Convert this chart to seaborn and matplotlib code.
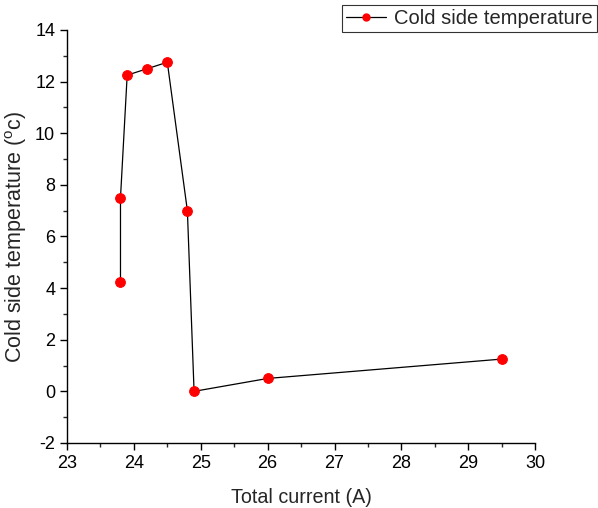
import matplotlib
matplotlib.use("Agg")
import matplotlib.pyplot as plt
import seaborn as sns
import pandas as pd
from matplotlib.ticker import MultipleLocator
from matplotlib.lines import Line2D

total_current = [23.8, 23.8, 23.9, 24.2, 24.5, 24.8, 24.9, 26.0, 29.5]
cold_temp = [4.25, 7.5, 12.25, 12.5, 12.75, 7.0, 0.0, 0.5, 1.25]
series_name = "Cold side temperature"

sns.set_theme(style="ticks")
plt.rcParams['font.family'] = ['Liberation Sans', 'DejaVu Sans']
plt.rcParams['axes.unicode_minus'] = False

df = pd.DataFrame({"x": total_current, "y": cold_temp})

fig = plt.figure(figsize=(5.98, 5.08), dpi=100)
ax = fig.add_axes([0.112, 0.128, 0.783, 0.813])
sns.lineplot(data=df, x="x", y="y", sort=False, estimator=None, ax=ax,
             color="black", linewidth=0.9, marker="o", markersize=7,
             markerfacecolor="red", markeredgecolor="red", legend=False)

ax.set_xlim(23, 30)
ax.set_ylim(-2, 14)
ax.xaxis.set_major_locator(MultipleLocator(1))
ax.xaxis.set_minor_locator(MultipleLocator(0.5))
ax.yaxis.set_major_locator(MultipleLocator(2))
ax.yaxis.set_minor_locator(MultipleLocator(1))
ax.tick_params(which="major", direction="out", length=5, width=1, labelsize=13, colors="black")
ax.tick_params(which="minor", direction="out", length=3, width=1)
for s in ["top", "right"]:
    ax.spines[s].set_visible(False)
for s in ["left", "bottom"]:
    ax.spines[s].set_color("black")
    ax.spines[s].set_linewidth(1)
ax.set_xlabel("Total current (A)", fontsize=14.2, labelpad=12)
ax.set_ylabel("Cold side temperature ($\\mathregular{^o}$c)", fontsize=15.5, labelpad=4)

handle = Line2D([], [], color="black", linewidth=0.9, marker="o", markersize=5,
                markerfacecolor="red", markeredgecolor="red")
leg = fig.legend([handle], [series_name], loc="upper right",
                 bbox_to_anchor=(597 / 598, 1 - 5 / 508), fontsize=14.5,
                 frameon=True, fancybox=False, edgecolor="black", borderpad=0.2,
                 handlelength=2.0, handletextpad=0.4, borderaxespad=0)
leg.get_frame().set_linewidth(0.8)

fig.savefig("out.png", dpi=100)
